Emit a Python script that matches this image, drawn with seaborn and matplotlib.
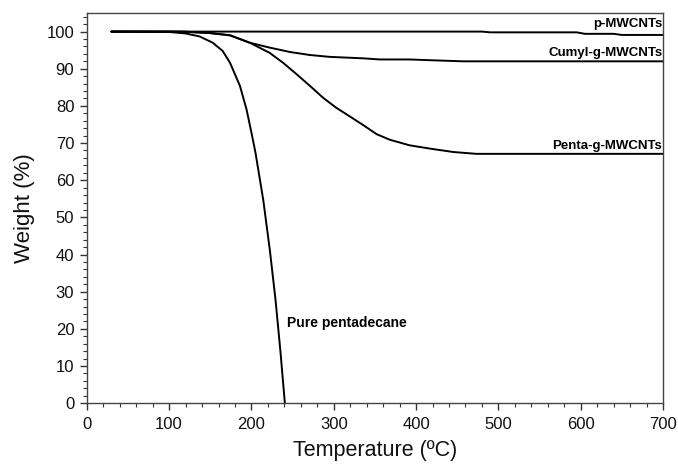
import numpy as np
import pandas as pd
import matplotlib
matplotlib.use("Agg")
import matplotlib.pyplot as plt
from matplotlib.ticker import MultipleLocator
import seaborn as sns

# ---- data ----
p_temp = [30, 100, 200, 300, 400, 480, 490, 595, 605, 640, 650, 700]
p_weight = [100, 100, 100, 100, 100, 100, 99.8, 99.8, 99.4, 99.4, 99.1, 99.1]

cumyl_temp = [30, 100, 120, 150, 174, 198, 222, 247, 271, 295, 336, 356, 392, 417, 457, 550, 700]
cumyl_weight = [100, 100, 99.95, 99.6, 99.0, 97.0, 95.7, 94.5, 93.7, 93.2, 92.8, 92.5, 92.5, 92.3, 92.0, 92.0, 92.0]

penta_temp = [30, 100, 120, 150, 174, 198, 222, 238.5, 255, 271, 287, 303, 320, 336, 352, 368, 392, 417, 445, 473, 550, 700]
penta_weight = [100, 100, 99.95, 99.6, 99.0, 97.0, 94.3, 91.6, 88.5, 85.4, 82.2, 79.5, 77.1, 74.8, 72.4, 70.9, 69.4, 68.5, 67.6, 67.1, 67.1, 67.1]

pure_temp = [30, 100, 120, 137, 153, 165, 174, 186, 194, 200, 205, 214.4, 222.4, 229.3, 235.1, 240.6]
pure_weight = [100, 99.9, 99.5, 98.7, 97.0, 94.8, 91.6, 85.4, 79.1, 72.8, 67.3, 54.6, 41.1, 27.7, 14.2, 0.0]

series_names = ["p-MWCNTs", "Cumyl-g-MWCNTs", "Penta-g-MWCNTs", "Pure pentadecane"]
x_ticks = [0, 100, 200, 300, 400, 500, 600, 700]
y_ticks = [0, 10, 20, 30, 40, 50, 60, 70, 80, 90, 100]

frames = []
for name, t, w in zip(series_names,
                      [p_temp, cumyl_temp, penta_temp, pure_temp],
                      [p_weight, cumyl_weight, penta_weight, pure_weight]):
    frames.append(pd.DataFrame({"Temperature": t, "Weight": w, "Sample": name}))
df = pd.concat(frames, ignore_index=True)

sns.set_theme(style="ticks")
plt.rcParams["font.family"] = ["Liberation Sans", "DejaVu Sans"]

fig = plt.figure(figsize=(6.78, 4.65), dpi=100)
ax = fig.add_axes([0.128, 0.133, 0.850, 0.839])

for name in series_names:
    sub = df[df["Sample"] == name]
    sns.lineplot(data=sub, x="Temperature", y="Weight", ax=ax, color="black",
                 linewidth=1.4, estimator=None, sort=False, legend=False)

ax.set_xlim(0, 700)
ax.set_ylim(0, 105)
ax.set_xticks(x_ticks)
ax.set_yticks(y_ticks)
ax.xaxis.set_minor_locator(MultipleLocator(20))
ax.yaxis.set_minor_locator(MultipleLocator(2))
ax.tick_params(axis="both", which="major", direction="out", length=5, width=1,
               labelsize=12, color="#333333", labelcolor="#111111")
ax.tick_params(axis="x", which="major", pad=5)
ax.tick_params(axis="y", which="major", pad=4)
ax.tick_params(axis="both", which="minor", direction="out", length=3, width=0.8,
               color="#333333")
ax.tick_params(top=False, right=False, which="both")
for s in ax.spines.values():
    s.set_visible(True)
    s.set_color("#444444")
    s.set_linewidth(1.0)

ax.set_xlabel("Temperature (ºC)", fontsize=15.5, color="#111111", labelpad=6)
ax.set_ylabel("Weight (%)", fontsize=16, color="#111111", labelpad=8)

lab_kw = dict(fontweight="bold", color="black")
ax.text(699, 100.4, series_names[0], ha="right", va="bottom", fontsize=9.5, **lab_kw)
ax.text(699, 92.5, series_names[1], ha="right", va="bottom", fontsize=9.5, **lab_kw)
ax.text(699, 67.5, series_names[2], ha="right", va="bottom", fontsize=9.5, **lab_kw)
ax.text(243, 21.5, series_names[3], ha="left", va="center", fontsize=10, **lab_kw)

fig.savefig("out.png", dpi=100)
